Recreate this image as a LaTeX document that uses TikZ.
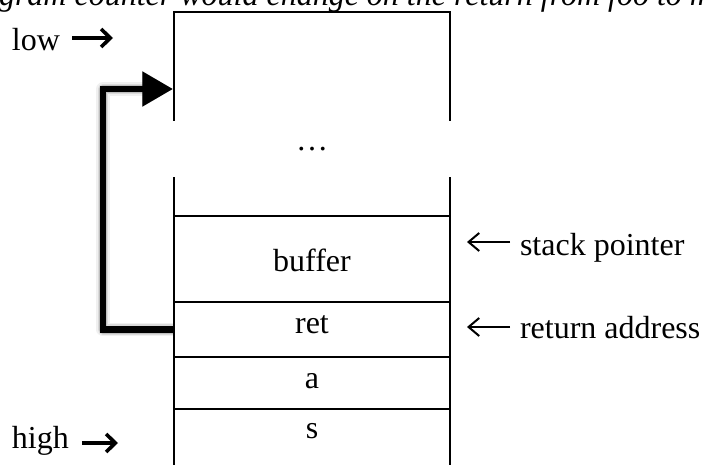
\documentclass[tikz,border=0pt]{standalone}
\usepackage{fontspec}
\setmainfont{Liberation Serif}
\usetikzlibrary{arrows.meta}
\begin{document}
\begin{tikzpicture}[x=0.75pt,y=-0.75pt,
  txt/.style={font=\fontsize{24}{28}\selectfont, inner sep=0pt, outer sep=0pt},
  wall/.style={line width=2pt, line cap=rect},
  cell/.style={draw, line width=2pt, minimum width=207pt, inner sep=0pt, outer sep=0pt},
  boldarr/.style={line width=2.7pt, -{Straight Barb[length=7pt,width=13.5pt,line width=2.7pt]}},
  thinarr/.style={line width=1.5pt, -{Straight Barb[length=8pt,width=13.5pt,line width=1.5pt]}},
  bigpath/.style={line width=5pt, line join=miter, -{Triangle[length=23pt,width=25pt]}},
  shadowpath/.style={line join=round, draw=black, -{Triangle[length=23pt,width=25pt]}}
]
\useasboundingbox (0,0) rectangle (703,464);
\clip (0,0) rectangle (703,464);

% clipped caption line at the top
\node[txt, anchor=base west, font=\fontsize{24}{28}\selectfont\itshape] (caption) at (-1,6) {gram counter would change on the return from foo to m};

% stack cells
\node[cell, minimum height=64.5pt] (buffercell) at (312,259) {};
\node[cell, minimum height=41.25pt] (ret) at (312,329.5) {};
\node[cell, minimum height=39pt] (acell) at (312,383) {};
\node[cell, minimum height=45.75pt] (scell) at (312,439.5) {};

% upper part of the stack (walls with a gap)
\draw[wall] (174,120) -- (174,12) -- (450,12) -- (450,120);
\draw[wall] (174,178) -- (buffercell.north west);
\draw[wall] (450,178) -- (buffercell.north east);

% cell texts
\node[txt, anchor=base] (dots) at (312,150) {…};
\node[txt, anchor=base] (buffertxt) at (312,271) {buffer};
\node[txt, anchor=base] (rettxt) at (312,333) {ret};
\node[txt, anchor=base] (atxt) at (312,388) {a};
\node[txt, anchor=base] (stxt) at (312,438) {s};

% side labels
\node[txt, anchor=base west] (low) at (12,50) {low};
\node[txt, anchor=base west] (high) at (12,448) {high};
\node[txt, anchor=base west] (sp) at (520,255) {stack pointer};
\node[txt, anchor=base west] (ra) at (520,338) {return address};

\coordinate (lowtip) at (113,38);
\coordinate (hightip) at (118,443);
\coordinate (sptip) at (467,242);
\coordinate (ratip) at (467,327);
\draw[boldarr] (low.east |- lowtip) ++(12,0) -- (lowtip);
\draw[boldarr] (high.east |- hightip) ++(13,0) -- (hightip);
\draw[thinarr] (sp.west |- sptip) ++(-10,0) -- (sptip);
\draw[thinarr] (ra.west |- ratip) ++(-10,0) -- (ratip);

% thick return arrow with soft shadow
\coordinate (entry) at (173,89);
\begin{scope}[shift={(4,5)}]
  \draw[shadowpath, line width=10pt, opacity=0.06] (ret.west) -- ++(-71,0) |- (entry);
  \draw[shadowpath, line width=8pt, opacity=0.09] (ret.west) -- ++(-71,0) |- (entry);
  \draw[shadowpath, line width=6pt, opacity=0.12] (ret.west) -- ++(-71,0) |- (entry);
\end{scope}
\draw[bigpath] (ret.west) -- ++(-71,0) |- (entry);
\end{tikzpicture}
\end{document}
